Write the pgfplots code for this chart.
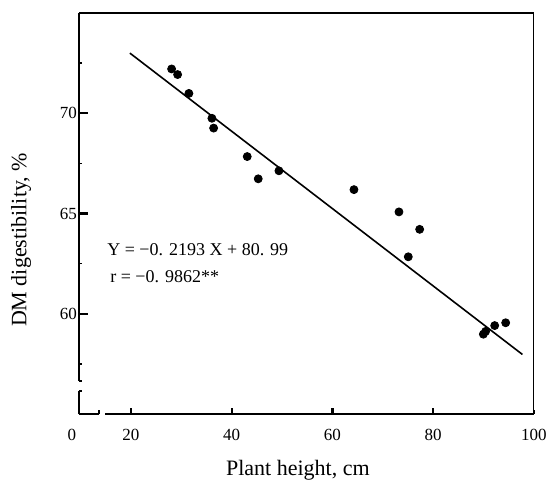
\documentclass[border=0pt]{standalone}
\usepackage{fontspec}
\setmainfont{Liberation Serif}
\usepackage{pgfplots}
\pgfplotsset{compat=1.18}
\begin{document}
\begin{tikzpicture}
\begin{axis}[
  width=227.5pt, height=200.5pt, scale only axis,
  xmin=9.7, xmax=100, ymin=55, ymax=75,
  axis lines*=left, axis line style={line width=0.9pt, -},
  xtick={20,40,60,80,100},
  ytick={60,65,70},
  major tick length=0pt,
  tick label style={font=\fontsize{8.5}{9}\selectfont},
  xticklabel style={yshift=-4pt},
  yticklabel style={xshift=2.5pt},
  /pgf/number format/assume math mode=true,
  clip=false,
]
% measured points
\addplot[only marks, mark=*, mark size=2pt, black] coordinates {
  (28.08,72.21) (29.27,71.93) (31.51,70.99) (36.08,69.75) (36.42,69.26)
  (43.09,67.84) (45.27,66.73) (49.38,67.13) (64.27,66.19) (73.20,65.08)
  (77.31,64.21) (75.05,62.84) (89.95,58.98) (90.40,59.12) (92.20,59.41)
  (94.38,59.55)
};
% regression line as drawn
\addplot[black, line width=0.8pt] coordinates {(19.8,73.0) (97.7,57.97)};

% tick marks, pointing inward (lengths in axis units)
\draw[line width=1.1pt] (axis cs:9.7,60) -- (axis cs:11.5,60);
\draw[line width=1.1pt] (axis cs:9.7,65) -- (axis cs:11.5,65);
\draw[line width=1.1pt] (axis cs:9.7,70) -- (axis cs:11.5,70);
\draw[line width=0.7pt] (axis cs:9.7,57.5) -- (axis cs:10.3,57.5);
\draw[line width=0.7pt] (axis cs:9.7,62.5) -- (axis cs:10.3,62.5);
\draw[line width=0.7pt] (axis cs:9.7,67.5) -- (axis cs:10.3,67.5);
\draw[line width=0.7pt] (axis cs:9.7,72.5) -- (axis cs:10.3,72.5);
\draw[line width=1.1pt] (axis cs:20,55) -- (axis cs:20,55.28);
\draw[line width=1.1pt] (axis cs:40,55) -- (axis cs:40,55.28);
\draw[line width=1.1pt] (axis cs:60,55) -- (axis cs:60,55.28);
\draw[line width=1.1pt] (axis cs:80,55) -- (axis cs:80,55.28);
\draw[line width=1.1pt] (axis cs:100,55) -- (axis cs:100,55.2);

% top and right of the frame
\draw[line width=0.9pt] (axis cs:9.7,75) -- (axis cs:100,75);
\draw[line width=0.5pt] (axis cs:100,75) -- (axis cs:100,55);
% axis breaks
\fill[white] (axis cs:9.3,56.14) rectangle (axis cs:10.1,56.63);
\fill[white] (axis cs:13.65,54.9) rectangle (axis cs:14.84,55.1);
\draw[line width=0.9pt] (axis cs:9.7,56.14) -- (axis cs:10.35,56.14);
\draw[line width=0.9pt] (axis cs:9.7,56.63) -- (axis cs:10.2,56.63);
\draw[line width=0.9pt] (axis cs:13.65,55) -- (axis cs:13.65,55.22);
\node[anchor=north, yshift=-4pt, font=\fontsize{8.5}{9}\selectfont] at ([xshift=-3.5pt]axis cs:9.7,55) {0};

\node[anchor=west, inner sep=0, font=\fontsize{9}{10}\selectfont] at (axis cs:15.24,63.22) {Y = −0. 2193 X + 80. 99};
\node[anchor=west, inner sep=0, font=\fontsize{9}{10}\selectfont] at (axis cs:15.83,61.83) {r = −0. 9862**};

\node[rotate=90, font=\fontsize{11}{12}\selectfont] at ([xshift=-29pt]rel axis cs:0,0.434) {DM digestibility, \%};
\node[font=\fontsize{11}{12}\selectfont] at ([yshift=-28pt]rel axis cs:0.481,0) {Plant height, cm};
\end{axis}
\pgfresetboundingbox
\path[use as bounding box] ([shift={(-39.5pt,-34.5pt)}]current axis.south west) rectangle ([shift={(7pt,6.5pt)}]current axis.north east);
\end{tikzpicture}
\end{document}
